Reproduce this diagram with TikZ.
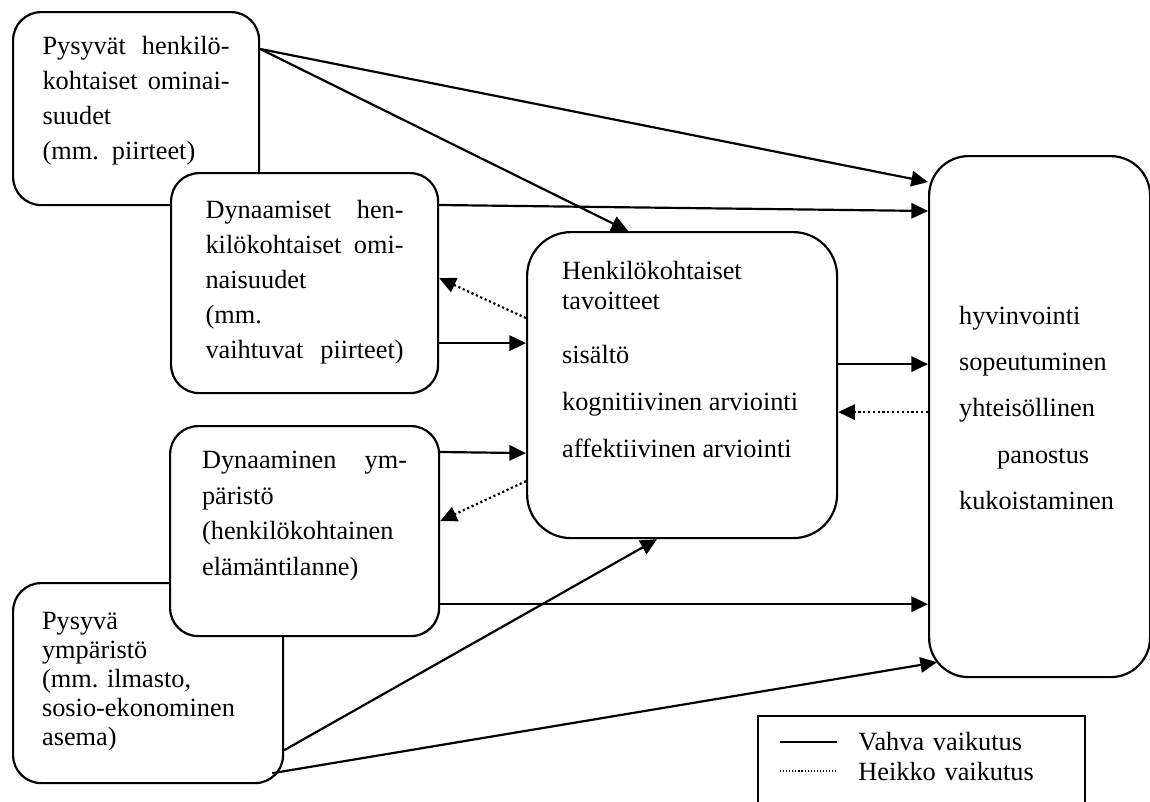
\documentclass[tikz,border=0pt]{standalone}
\usepackage{fontspec}
\setmainfont{Liberation Serif}
\usetikzlibrary{arrows.meta}

\newlength{\pxunit}
\setlength{\pxunit}{0.4563pt}
\newcommand{\boxtext}[3]{\parbox[c][#2\pxunit][t]{#1\pxunit}{\raggedright #3}}
\hyphenpenalty=10000

\begin{document}
\begin{tikzpicture}[x=0.4563pt, y=-0.4563pt, >={Triangle[length=7.6pt, width=7pt]}]
    \tikzstyle{laatikko}=[draw, fill=white, line width=1pt, rounded corners=12.8pt, anchor=north west, inner xsep=0pt, font=\fontsize{12}{16}\selectfont]
    \tikzstyle{vahva}=[->, line width=1pt]
    \tikzstyle{heikko}=[->, line width=1pt, dash pattern=on 1pt off 1.2pt]

    \useasboundingbox (0,0) rectangle (1150,801);

    % Draw the personal characteristics
    \node[laatikko, minimum width=246\pxunit, inner ysep=24\pxunit] (pysyvat) at (12,11)
        {\boxtext{187}{145}{Pysyvät\hfill henkilö-\\kohtaiset\hfill ominai-\\suudet\\(mm.~~piirteet)}};
    \node[laatikko, minimum width=267\pxunit, inner ysep=27\pxunit] (dynpiirteet) at (170,172)
        {\boxtext{198}{166}{Dynaamiset\hfill hen-\\kilökohtaiset\hfill omi-\\naisuudet\\(mm.\\vaihtuvat\hfill piirteet)}};

    % Draw the environment
    \node[laatikko, minimum width=270\pxunit, inner ysep=29\pxunit, font=\fontsize{12}{13.2}\selectfont] (pysyvaymp) at (12,582)
        {\boxtext{212}{142}{Pysyvä\\ympäristö\\(mm. ilmasto,\\sosio-ekonominen\\asema)}};
    \node[laatikko, minimum width=269\pxunit, inner ysep=25\pxunit, font=\fontsize{12}{16.2}\selectfont] (dynymp) at (169,425)
        {\boxtext{205}{160}{Dynaaminen\hfill ym-\\päristö\\(henkilökohtainen\\elämäntilanne)}};

    % Draw the goals and the outcomes
    \node[laatikko, rounded corners=20pt, minimum width=310\pxunit, inner ysep=29\pxunit, font=\fontsize{12}{21.4}\selectfont] (tavoitteet) at (526,231)
        {\boxtext{240}{248}{Henkilökohtaiset\\[-7.8pt]tavoitteet\\[3.6pt]sisältö\\kognitiivinen arviointi\\affektiivinen arviointi}};
    \node[laatikko, rounded corners=18pt, minimum width=221\pxunit, inner ysep=150\pxunit, font=\fontsize{12}{21.1}\selectfont] (hyvinvointi) at (928,155)
        {\boxtext{161}{221}{hyvinvointi\\sopeutuminen\\yhteisöllinen\\\hspace*{38\pxunit}panostus\\kukoistaminen}};

    % Strong effects
    \draw[vahva] ([shift={(0,38)}]pysyvat.north east) -- ([shift={(0,27)}]hyvinvointi.north west);
    \draw[vahva] ([shift={(0,38)}]pysyvat.north east) -- ([shift={(-54,0)}]tavoitteet.north);
    \draw[vahva] ([shift={(0,33)}]dynpiirteet.north east) -- ([shift={(0,56)}]hyvinvointi.north west);
    \draw[vahva] ([shift={(0,60)}]dynpiirteet.east) -- ([shift={(0,-42)}]tavoitteet.west);
    \draw[vahva] ([shift={(0,27)}]dynymp.north east) -- ([shift={(0,68)}]tavoitteet.west);
    \draw[vahva] ([shift={(0,-33)}]dynymp.south east) -- ([shift={(0,-74)}]hyvinvointi.south west);
    \draw[vahva] ([shift={(0,-34)}]pysyvaymp.south east) -- ([shift={(-25,0)}]tavoitteet.south);
    \draw[vahva] ([shift={(-12,-11)}]pysyvaymp.south east) -- ([shift={(9,-16)}]hyvinvointi.south west);
    \draw[vahva] ([shift={(0,-21)}]tavoitteet.east) -- ([shift={(0,-52.5)}]hyvinvointi.west);

    % Weak effects
    \draw[heikko] ([shift={(0,-67)}]tavoitteet.west) -- ([shift={(0,-5)}]dynpiirteet.east);
    \draw[heikko] ([shift={(0,96)}]tavoitteet.west) -- ([shift={(0,-10)}]dynymp.east);
    \draw[heikko] ([shift={(0,-4.5)}]hyvinvointi.west) -- ([shift={(0,27)}]tavoitteet.east);

    % Legend
    \node[draw, line width=1pt, anchor=north west, minimum width=327\pxunit, minimum height=120\pxunit] (selite) at (757,715) {};
    \draw[line width=1pt] ([shift={(23,27)}]selite.north west) -- ([shift={(80,27)}]selite.north west);
    \draw[line width=0.5pt, dash pattern=on 0.5pt off 0.9pt] ([shift={(23,56)}]selite.north west) -- ([shift={(80,56)}]selite.north west);
    \node[anchor=base west, text width=200\pxunit, inner sep=0pt, font=\fontsize{12}{13.7}\selectfont] (selitteet) at ([shift={(101,35)}]selite.north west)
        {Vahva vaikutus\\Heikko vaikutus};
\end{tikzpicture}
\end{document}
